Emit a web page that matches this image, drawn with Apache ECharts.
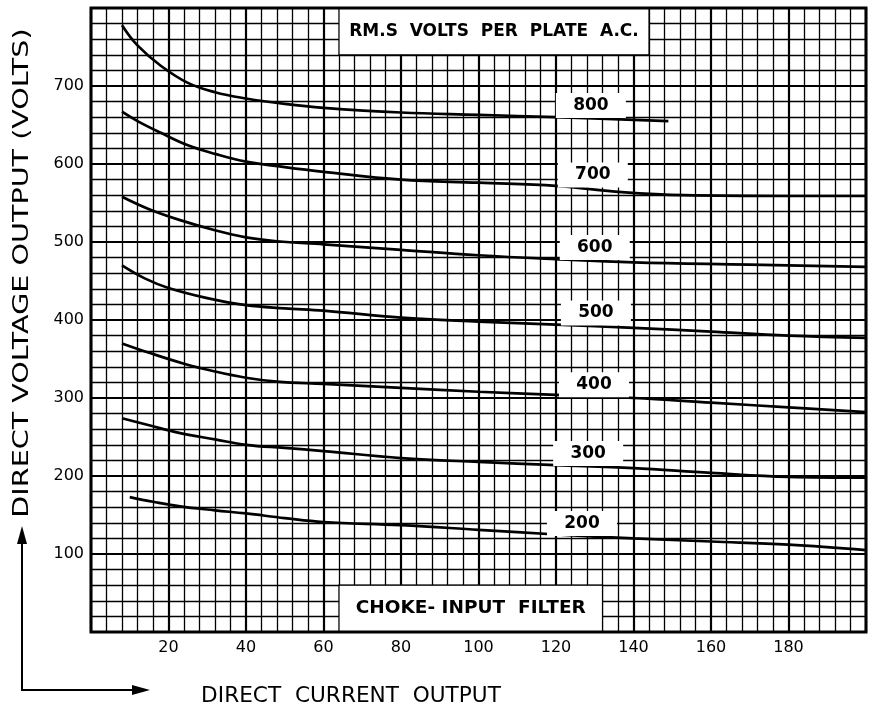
<!DOCTYPE html>
<html>
<head>
<meta charset="utf-8">
<script src="https://cdn.jsdelivr.net/npm/echarts@6/dist/echarts.min.js"></script>
<style>
html,body{margin:0;padding:0;background:#fff;}
#c{width:870px;height:716px;}
</style>
</head>
<body>
<div id="c"></div>
<script>
// Plate voltages (RMS per plate, A.C.) – one curve each
const plateVolts = ['800', '700', '600', '500', '400', '300', '200'];
// Direct current output (x) vs direct voltage output (y) for each curve
const curve800 = [[8, 778], [12, 752], [18, 726], [25, 704], [32, 692], [40, 684], [50, 677], [60, 672], [80, 666], [100, 663], [120, 660], [149, 655]];
const curve700 = [[8, 667], [12, 655], [18, 640], [25, 624], [32, 613], [40, 603], [50, 596], [60, 590], [80, 580], [100, 576], [120, 572], [137, 564], [153, 560], [180, 559], [200, 559]];
const curve600 = [[8, 558], [15, 542], [23, 528], [32, 515], [40, 506], [48, 501], [60, 497], [80, 490], [100, 483], [120, 478], [140, 474], [170, 471], [200, 468]];
const curve500 = [[8, 470], [14, 453], [20, 441], [30, 428], [40, 419], [50, 415], [60, 412], [80, 403], [100, 398], [120, 394], [140, 390], [160, 385], [180, 380], [200, 377]];
const curve400 = [[8, 370], [15, 358], [24, 344], [32, 334], [40, 326], [48, 321], [60, 318], [80, 313], [100, 308], [120, 304], [140, 300], [160, 294], [180, 288], [200, 282]];
const curve300 = [[8, 274], [15, 265], [23, 255], [32, 247], [40, 240], [50, 236], [60, 232], [80, 223], [100, 218], [120, 214], [140, 210], [160, 204], [180, 199], [200, 198]];
const curve200 = [[10, 173], [16, 167], [23, 161], [32, 156], [40, 152], [50, 146], [60, 141], [80, 137], [100, 131], [120, 125], [140, 120], [160, 116], [180, 112], [200, 105]];
const curves = [curve800, curve700, curve600, curve500, curve400, curve300, curve200];

const xTickLabels = ['20', '40', '60', '80', '100', '120', '140', '160', '180'];
const yTickLabels = ['100', '200', '300', '400', '500', '600', '700'];

const titleText = 'RM.S  VOLTS  PER  PLATE  A.C.';
const filterText = 'CHOKE- INPUT  FILTER';
const xTitle = 'DIRECT  CURRENT  OUTPUT';
const yTitle = 'DIRECT VOLTAGE OUTPUT (VOLTS)';

const chart = echarts.init(document.getElementById('c'), null, {renderer: 'canvas'});

// anchor points (data coords) for the curve labels
const labelAnchors = [[129, 675], [129.5, 586], [130, 493], [130.3, 409], [129.8, 317], [128.3, 229], [126.7, 139]];

const FONT = 'DejaVu Sans';

const lineSeries = curves.map((d, i) => ({
  type: 'line',
  name: plateVolts[i],
  data: d,
  smooth: 0.4,
  showSymbol: false,
  silent: true,
  lineStyle: {color: '#000', width: 2.7},
  z: 3
}));

const boxSeries = {
  type: 'line',
  data: [],
  silent: true,
  z: 4,
  markArea: {
    silent: true,
    itemStyle: {color: '#fff', borderColor: '#000', borderWidth: 1.2},
    label: {position: 'inside', color: '#000', fontFamily: FONT, fontWeight: 'bold', fontSize: 17},
    data: [
      [{coord: [64, 800], name: titleText}, {coord: [144, 740]}],
      [{coord: [64, 60], name: filterText, label: {fontSize: 18.5}}, {coord: [132, 0]}]
    ]
  },
  markPoint: {
    silent: true,
    symbol: 'rect',
    symbolSize: [70, 25],
    itemStyle: {color: '#fff', borderWidth: 0},
    label: {show: true, position: 'inside', color: '#000', fontFamily: FONT, fontWeight: 'bold', fontSize: 17,
            formatter: p => p.name},
    data: labelAnchors.map((p, i) => ({coord: p, name: plateVolts[i]}))
  }
};

chart.setOption({
  animation: false,
  backgroundColor: '#fff',
  grid: {left: 91, right: 4, top: 8, bottom: 84, show: true, borderColor: '#000', borderWidth: 3, z: 10},
  xAxis: {
    type: 'value', min: 0, max: 200, interval: 20,
    axisLine: {show: false}, axisTick: {show: false},
    axisLabel: {
      color: '#000', fontFamily: FONT, fontSize: 16, margin: 8,
      formatter: v => xTickLabels.indexOf(String(v)) >= 0 ? String(v) : ''
    },
    splitLine: {show: true, lineStyle: {color: '#000', width: 2.2}},
    minorTick: {show: false, splitNumber: 5},
    minorSplitLine: {show: true, lineStyle: {color: '#000', width: 1.3}}
  },
  yAxis: {
    type: 'value', min: 0, max: 800, interval: 100,
    axisLine: {show: false}, axisTick: {show: false},
    axisLabel: {
      color: '#000', fontFamily: FONT, fontSize: 16, margin: 7,
      formatter: v => yTickLabels.indexOf(String(v)) >= 0 ? String(v) : ''
    },
    splitLine: {show: true, lineStyle: {color: '#000', width: 2.2}},
    minorTick: {show: false, splitNumber: 5},
    minorSplitLine: {show: true, lineStyle: {color: '#000', width: 1.3}}
  },
  graphic: [
    {type: 'text', x: 22, y: 273, rotation: Math.PI / 2, scaleX: 1.3,
     style: {text: yTitle, fill: '#000', font: '22px "DejaVu Sans"', textAlign: 'center', textVerticalAlign: 'middle'}},
    {type: 'text', x: 351, y: 697, scaleX: 1.03,
     style: {text: xTitle, fill: '#000', font: '21px "DejaVu Sans"', textAlign: 'center', textVerticalAlign: 'middle'}},
    {type: 'polyline', shape: {points: [[22, 536], [22, 690], [140, 690]]}, style: {stroke: '#000', lineWidth: 2, fill: null}},
    {type: 'polygon', shape: {points: [[22, 526], [17, 544], [27, 544]]}, style: {fill: '#000'}},
    {type: 'polygon', shape: {points: [[150, 690], [132, 685], [132, 695]]}, style: {fill: '#000'}}
  ],
  series: [...lineSeries, boxSeries]
});
</script>
</body>
</html>
